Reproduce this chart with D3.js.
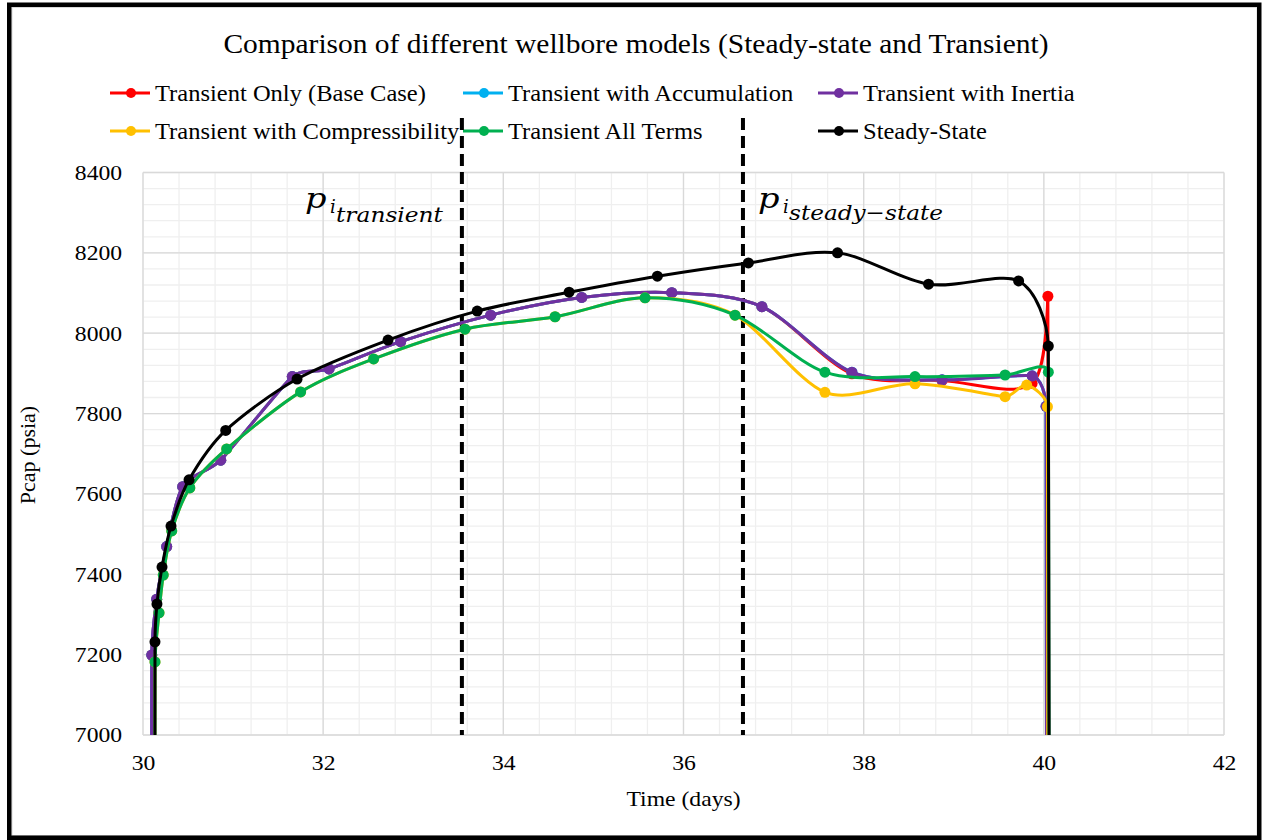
<!DOCTYPE html>
<html>
<head>
<meta charset="utf-8">
<script src="https://cdn.jsdelivr.net/npm/d3@7"></script>
<style>
  html, body { margin: 0; padding: 0; background: #fff; }
  svg { display: block; }
  .serif { font-family: "Liberation Serif", "Times New Roman", serif; fill: #000; }
  .math { font-family: "DejaVu Serif", serif; font-style: italic; fill: #000; }
</style>
</head>
<body>
<svg id="chart" width="1263" height="840"></svg>
<script>
// ---- Data (time in days, cap pressure in psia) ----
// The first and last entry of every series is the shut-in drop below the axis floor.
const steadyDays   = [30.13, 30.133, 30.155, 30.211, 30.311, 30.511, 30.918, 31.71, 32.72, 33.71, 34.73, 35.71, 36.72, 37.71, 38.72, 39.72, 40.05, 40.06];
const steadyPcap   = [6000, 7232, 7326, 7418, 7520, 7635, 7758, 7886, 7983, 8055, 8102, 8142, 8175, 8200, 8122, 8130, 7968, 6000];

const inertiaDays  = [30.09, 30.097, 30.152, 30.263, 30.441, 30.863, 31.657, 32.065, 32.86, 33.86, 34.87, 35.87, 36.87, 37.87, 38.87, 39.87, 40.024, 40.035];
const inertiaPcap  = [6000, 7199, 7338, 7469, 7618, 7684, 7892, 7911, 7979, 8045, 8089, 8101, 8066, 7903, 7884, 7894, 7818, 6000];

const accumDays    = [30.09, 30.097, 30.152, 30.263, 30.441, 30.863, 31.657, 32.065, 32.86, 33.86, 34.87, 35.87, 36.87, 37.87, 38.87, 39.87, 40.024, 40.035];
const accumPcap    = [6000, 7199, 7338, 7469, 7618, 7684, 7892, 7911, 7979, 8045, 8089, 8101, 8066, 7903, 7884, 7894, 7818, 6000];

const baseDays     = [30.09, 30.097, 30.152, 30.263, 30.441, 30.863, 31.657, 32.065, 32.86, 33.86, 34.87, 35.87, 36.87, 37.87, 38.87, 39.87, 40.045, 40.05];
const basePcap     = [6000, 7199, 7338, 7469, 7618, 7684, 7892, 7911, 7979, 8045, 8089, 8101, 8066, 7899, 7882, 7875, 8092, 6000];

const compressDays = [30.13, 30.133, 30.178, 30.225, 30.319, 30.52, 30.929, 31.75, 32.56, 33.575, 34.574, 35.573, 36.572, 37.57, 38.57, 39.57, 39.81, 40.04, 40.045];
const compressPcap = [6000, 7182, 7304, 7398, 7508, 7615, 7712, 7854, 7936, 8010, 8041, 8088, 8045, 7853, 7874, 7842, 7871, 7817, 6000];

const allTermsDays = [30.13, 30.133, 30.178, 30.225, 30.319, 30.52, 30.929, 31.75, 32.56, 33.575, 34.574, 35.573, 36.572, 37.57, 38.57, 39.57, 40.05, 40.06];
const allTermsPcap = [6000, 7182, 7304, 7398, 7508, 7615, 7712, 7854, 7936, 8010, 8041, 8088, 8045, 7903, 7892, 7896, 7903, 6000];

const seriesNames  = ["Transient Only (Base Case)", "Transient with Accumulation", "Transient with Inertia",
                      "Transient with Compressibility", "Transient All Terms", "Steady-State"];
const seriesColors = ["#FF0000", "#00B0F0", "#7030A0", "#FFC000", "#00B050", "#000000"];

const xTicks = [30, 32, 34, 36, 38, 40, 42];
const yTicks = [7000, 7200, 7400, 7600, 7800, 8000, 8200, 8400];

// Initial-pressure markers (days)
const markerDays   = [33.54, 36.66];

// ---- Layout ----
const svg = d3.select("#chart");
const W = 1263, H = 840;
const plot = { left: 143, right: 1224, top: 172.5, bottom: 735 };
const STRETCH = 1.1;

const x = d3.scaleLinear().domain([30, 42]).range([plot.left, plot.right]);
const y = d3.scaleLinear().domain([7000, 8400]).range([plot.bottom, plot.top]);

// background + outer frame
svg.append("rect").attr("width", W).attr("height", H).attr("fill", "#fff");
svg.append("rect").attr("x", 12).attr("y", 7.5).attr("width", 1245).attr("height", 828)
  .attr("fill", "none").attr("stroke", "#d9d9d9").attr("stroke-width", 1);
svg.append("rect").attr("x", 9.25).attr("y", 4.75).attr("width", 1250).attr("height", 833)
  .attr("fill", "none").attr("stroke", "#000").attr("stroke-width", 4.5);

// clip region for the plot
svg.append("defs").append("clipPath").attr("id", "plotClip")
  .append("rect").attr("x", plot.left).attr("y", plot.top - 10)
  .attr("width", plot.right - plot.left + 10).attr("height", plot.bottom - plot.top + 10);

// ---- Gridlines ----
const grid = svg.append("g");
const minorX = d3.range(30, 42.001, 0.4);
const minorY = d3.range(7000, 8400.001, 40);
grid.selectAll("line.mx").data(minorX).join("line")
  .attr("x1", d => x(d)).attr("x2", d => x(d)).attr("y1", plot.top).attr("y2", plot.bottom)
  .attr("stroke", "#efefef").attr("stroke-width", 1.3);
grid.selectAll("line.my").data(minorY).join("line")
  .attr("y1", d => y(d)).attr("y2", d => y(d)).attr("x1", plot.left).attr("x2", plot.right)
  .attr("stroke", "#efefef").attr("stroke-width", 1.3);
grid.selectAll("line.Mx").data(xTicks).join("line")
  .attr("x1", d => x(d)).attr("x2", d => x(d)).attr("y1", plot.top).attr("y2", plot.bottom)
  .attr("stroke", "#d9d9d9").attr("stroke-width", 1.3);
grid.selectAll("line.My").data(yTicks).join("line")
  .attr("y1", d => y(d)).attr("y2", d => y(d)).attr("x1", plot.left).attr("x2", plot.right)
  .attr("stroke", "#d9d9d9").attr("stroke-width", 1.3);

// ---- Axes ----
const xAxis = svg.append("g").attr("transform", `translate(0,${plot.bottom})`)
  .call(d3.axisBottom(x).tickValues(xTicks).tickSize(0).tickPadding(20).tickFormat(d3.format("d")));
const yAxis = svg.append("g").attr("transform", `translate(${plot.left},0)`)
  .call(d3.axisLeft(y).tickValues(yTicks).tickSize(0).tickPadding(19).tickFormat(d3.format("d")));
[xAxis, yAxis].forEach(a => {
  a.select(".domain").remove();
  a.selectAll("text").attr("class", "serif")
    .style("font-size", "21.5px")
    .attr("transform", `scale(${STRETCH},1)`);
});

// horizontally stretched serif text
function label(sel, tx, ty, str, size, anchor) {
  return sel.append("text").attr("class", "serif")
    .attr("transform", `translate(${tx},${ty}) scale(${STRETCH},1)`)
    .style("font-size", size + "px").attr("text-anchor", anchor || "start").text(str);
}

label(svg, 636, 53, "Comparison of different wellbore models (Steady-state and Transient)", 26.8, "middle");
label(svg, 683.5, 806, "Time (days)", 21.5, "middle");
svg.append("text").attr("class", "serif")
  .attr("transform", "translate(35,455) rotate(-90)")
  .style("font-size", "22px").attr("text-anchor", "middle").text("Pcap (psia)");

// ---- Legend ----
const legendPos = [[110, 93], [463, 93], [818, 93], [110, 131], [463, 131], [818, 131]];
const legend = svg.append("g");
seriesNames.forEach((name, i) => {
  const [lx, ly] = legendPos[i];
  const g = legend.append("g");
  g.append("line").attr("x1", lx).attr("x2", lx + 40).attr("y1", ly).attr("y2", ly)
    .attr("stroke", seriesColors[i]).attr("stroke-width", 3);
  g.append("circle").attr("cx", lx + 21).attr("cy", ly).attr("r", 5).attr("fill", seriesColors[i]);
  label(g, lx + 45, ly + 7.5, name, 22.3, "start");
});

// ---- Initial-pressure dashed markers ----
svg.selectAll("line.pi").data(markerDays).join("line")
  .attr("x1", d => x(d)).attr("x2", d => x(d)).attr("y1", 118).attr("y2", plot.bottom)
  .attr("stroke", "#000").attr("stroke-width", 4).attr("stroke-dasharray", "12,6");

function mathLabel(px, sub, subWidth, subBase) {
  const g = svg.append("g");
  g.append("text").attr("class", "math")
    .attr("transform", `translate(${px},208) scale(1.2,1)`)
    .style("font-size", "28px").text("p");
  g.append("text").attr("class", "math").attr("x", px + 25).attr("y", 213)
    .style("font-size", "18px").text("i");
  g.append("text").attr("class", "math").attr("x", px + 31).attr("y", subBase)
    .style("font-size", "21px").attr("textLength", subWidth)
    .attr("lengthAdjust", "spacingAndGlyphs").text(sub);
}
mathLabel(305, "transient", 107, 222);
mathLabel(758, "steady\u2212state", 154, 220);

// ---- Smoothed line: cubic Bezier whose tangents shrink next to short segments ----
function smoothCurve(context) {
  let pts = [];
  return {
    areaStart() {}, areaEnd() {},
    lineStart() { pts = []; },
    point(px, py) { pts.push([+px, +py]); },
    lineEnd() {
      const n = pts.length;
      if (!n) return;
      const dist = (a, b) => Math.hypot(b[0] - a[0], b[1] - a[1]);
      const tan = i => {
        if (i === 0 || i === n - 1) return [0, 0];
        const d0 = dist(pts[i - 1], pts[i]), d1 = dist(pts[i], pts[i + 1]);
        const f = (d0 + d1) > 0 ? Math.min(d0, d1) / (d0 + d1) / 3 : 0;
        return [(pts[i + 1][0] - pts[i - 1][0]) * f, (pts[i + 1][1] - pts[i - 1][1]) * f];
      };
      context.moveTo(pts[0][0], pts[0][1]);
      for (let i = 0; i < n - 1; i++) {
        const t0 = tan(i), t1 = tan(i + 1);
        context.bezierCurveTo(pts[i][0] + t0[0], pts[i][1] + t0[1],
                              pts[i + 1][0] - t1[0], pts[i + 1][1] - t1[1],
                              pts[i + 1][0], pts[i + 1][1]);
      }
    }
  };
}

// ---- Series ----
const series = [
  { days: baseDays,     pcap: basePcap },
  { days: accumDays,    pcap: accumPcap },
  { days: inertiaDays,  pcap: inertiaPcap },
  { days: compressDays, pcap: compressPcap },
  { days: allTermsDays, pcap: allTermsPcap },
  { days: steadyDays,   pcap: steadyPcap }
];

const line = d3.line().x(d => x(d[0])).y(d => y(d[1])).curve(smoothCurve);
const dataG = svg.append("g").attr("clip-path", "url(#plotClip)");
series.forEach((s, i) => {
  const pts = s.days.map((d, j) => [d, s.pcap[j]]);
  const g = dataG.append("g");
  g.append("path").datum(pts).attr("d", line).attr("fill", "none")
    .attr("stroke", seriesColors[i]).attr("stroke-width", 3).attr("stroke-linejoin", "round");
  g.selectAll("circle").data(pts.filter(p => p[1] >= 7000)).join("circle")
    .attr("cx", d => x(d[0])).attr("cy", d => y(d[1])).attr("r", 5.5).attr("fill", seriesColors[i]);
});
</script>
</body>
</html>
